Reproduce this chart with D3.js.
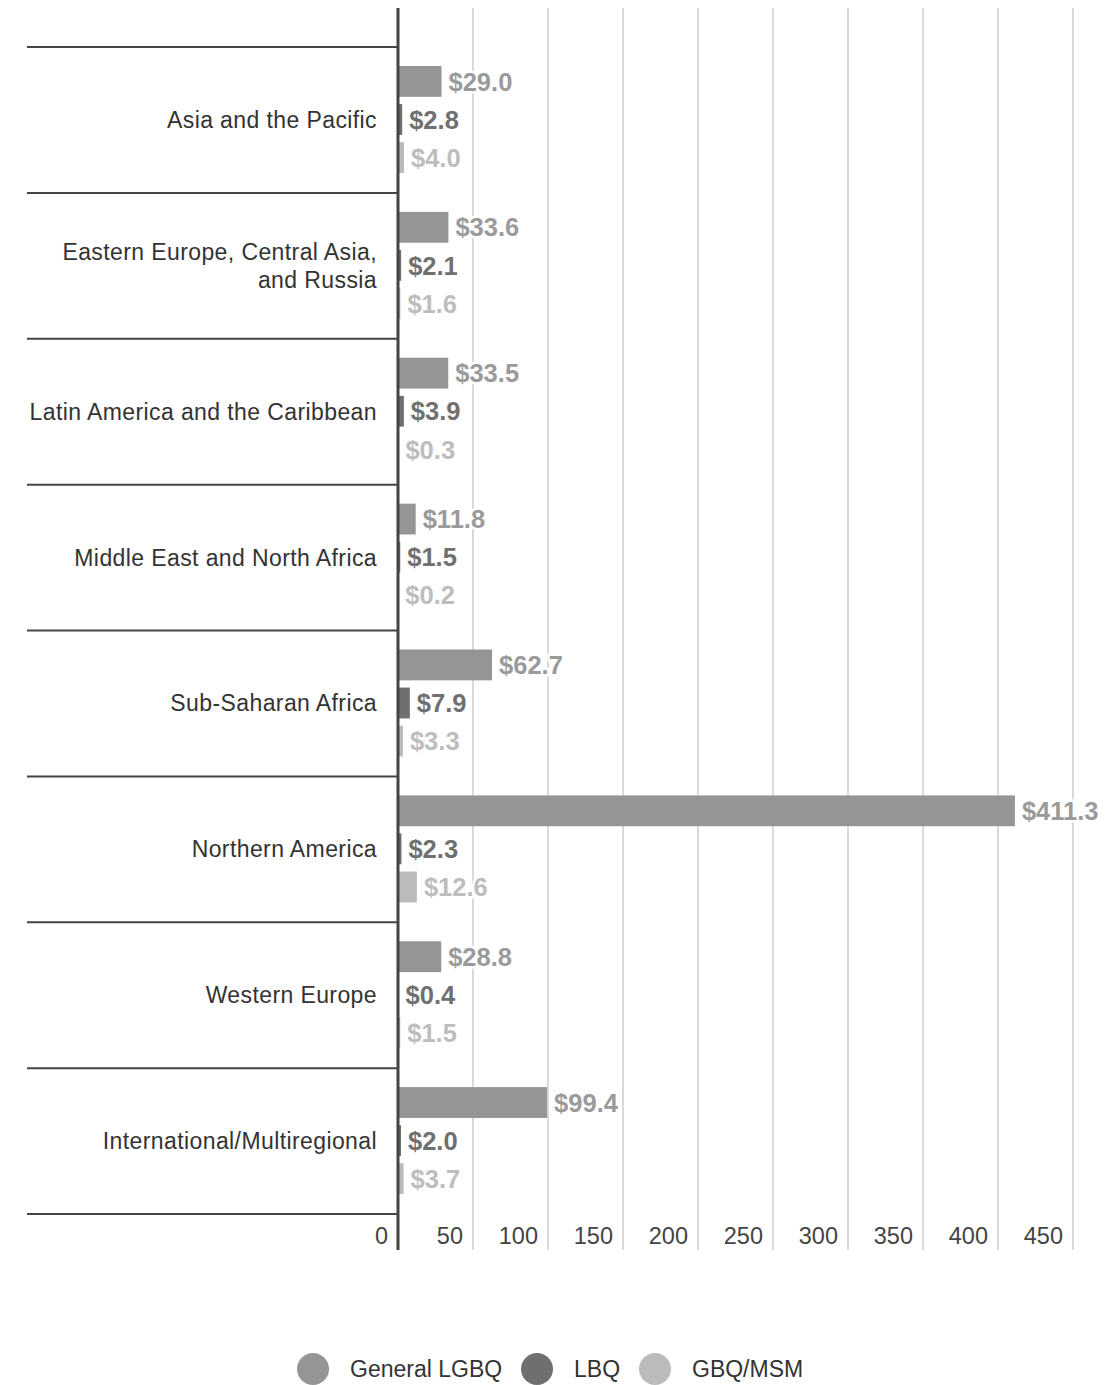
<!DOCTYPE html>
<html><head><meta charset="utf-8">
<script src="https://cdn.jsdelivr.net/npm/d3@7"></script>
<style>body{margin:0;background:#fff}svg{display:block;font-family:"Liberation Sans",Arial,Helvetica,sans-serif}</style>
</head><body><svg id="c" width="1116" height="1385"></svg>
<script>
const categories = ["Asia and the Pacific","Eastern Europe, Central Asia,|and Russia","Latin America and the Caribbean","Middle East and North Africa","Sub-Saharan Africa","Northern America","Western Europe","International/Multiregional"];
const seriesNames = ["General LGBQ","LBQ","GBQ/MSM"];
const generalLGBQ = [29.0,33.6,33.5,11.8,62.7,411.3,28.8,99.4];
const lbq = [2.8,2.1,3.9,1.5,7.9,2.3,0.4,2.0];
const gbqMsm = [4.0,1.6,0.3,0.2,3.3,12.6,1.5,3.7];
const tickValues = [0,50,100,150,200,250,300,350,400,450];

const barColors = ["#959595","#6f6f6f","#bbbbbb"];
const labelColors = ["#9a9a9a","#707070","#bdbdbd"];
const seriesData = [generalLGBQ, lbq, gbqMsm];

const svg = d3.select("#c");
const x = d3.scaleLinear().domain([0,450]).range([398,1073]);
const y = d3.scaleBand().domain(categories).range([47,1214]).padding(0);
const ySub = d3.scaleBand().domain(seriesNames).range([19,126]).paddingInner(0.19).paddingOuter(0);

// gridlines
svg.append("g").selectAll("line").data(tickValues.slice(1)).join("line")
  .attr("x1",d=>x(d)).attr("x2",d=>x(d)).attr("y1",8).attr("y2",1250)
  .attr("stroke","#d9d9d9").attr("stroke-width",2);

// separator lines
const seps = categories.map(c=>y(c)).concat([y.range()[1]]);
svg.append("g").selectAll("line").data(seps).join("line")
  .attr("x1",27).attr("x2",398).attr("y1",d=>d).attr("y2",d=>d)
  .attr("stroke","#444").attr("stroke-width",2);

// category labels
const catG = svg.append("g");
categories.forEach(c=>{
  const lines = c.split("|");
  const cy = y(c)+y.bandwidth()/2;
  const t = catG.append("text").attr("text-anchor","end").attr("font-size",23)
    .attr("letter-spacing","0.4px").attr("fill","#333");
  lines.forEach((l,i)=>{
    t.append("tspan").attr("x",377).attr("y",cy + (i-(lines.length-1)/2)*28).attr("dy","0.35em").text(l);
  });
});

// bars
const rows = [];
categories.forEach((c,ci)=>seriesNames.forEach((s,si)=>rows.push({c,s,si,v:seriesData[si][ci]})));
svg.append("g").selectAll("rect").data(rows).join("rect")
  .attr("x",x(0)).attr("y",d=>y(d.c)+ySub(d.s))
  .attr("width",d=>x(d.v)-x(0)).attr("height",ySub.bandwidth())
  .attr("fill",d=>barColors[d.si]);

// value labels
svg.append("g").selectAll("text").data(rows).join("text")
  .attr("x",d=>x(d.v)+7).attr("y",d=>y(d.c)+ySub(d.s)+ySub.bandwidth()/2).attr("dy","0.36em")
  .attr("font-size",25.5).attr("font-weight","bold").attr("fill",d=>labelColors[d.si])
  .attr("stroke","#fff").attr("stroke-width",5).attr("paint-order","stroke")
  .text(d=>"$"+d.v.toFixed(1));

// axis line
svg.append("line").attr("x1",398).attr("x2",398).attr("y1",8).attr("y2",1250)
  .attr("stroke","#444").attr("stroke-width",3);

// tick labels
svg.append("g").selectAll("text").data(tickValues).join("text")
  .attr("x",d=>x(d)-10).attr("y",1244).attr("text-anchor","end")
  .attr("font-size",23.5).attr("fill","#444").text(d=>d);

// legend
const legX = [313,537,655];
const lg = svg.append("g");
seriesNames.forEach((s,i)=>{
  lg.append("circle").attr("cx",legX[i]).attr("cy",1369).attr("r",16).attr("fill",barColors[i]);
  lg.append("text").attr("x",legX[i]+37).attr("y",1369).attr("dy","0.36em").attr("font-size",23).attr("fill","#333").text(s);
});
</script></body></html>
